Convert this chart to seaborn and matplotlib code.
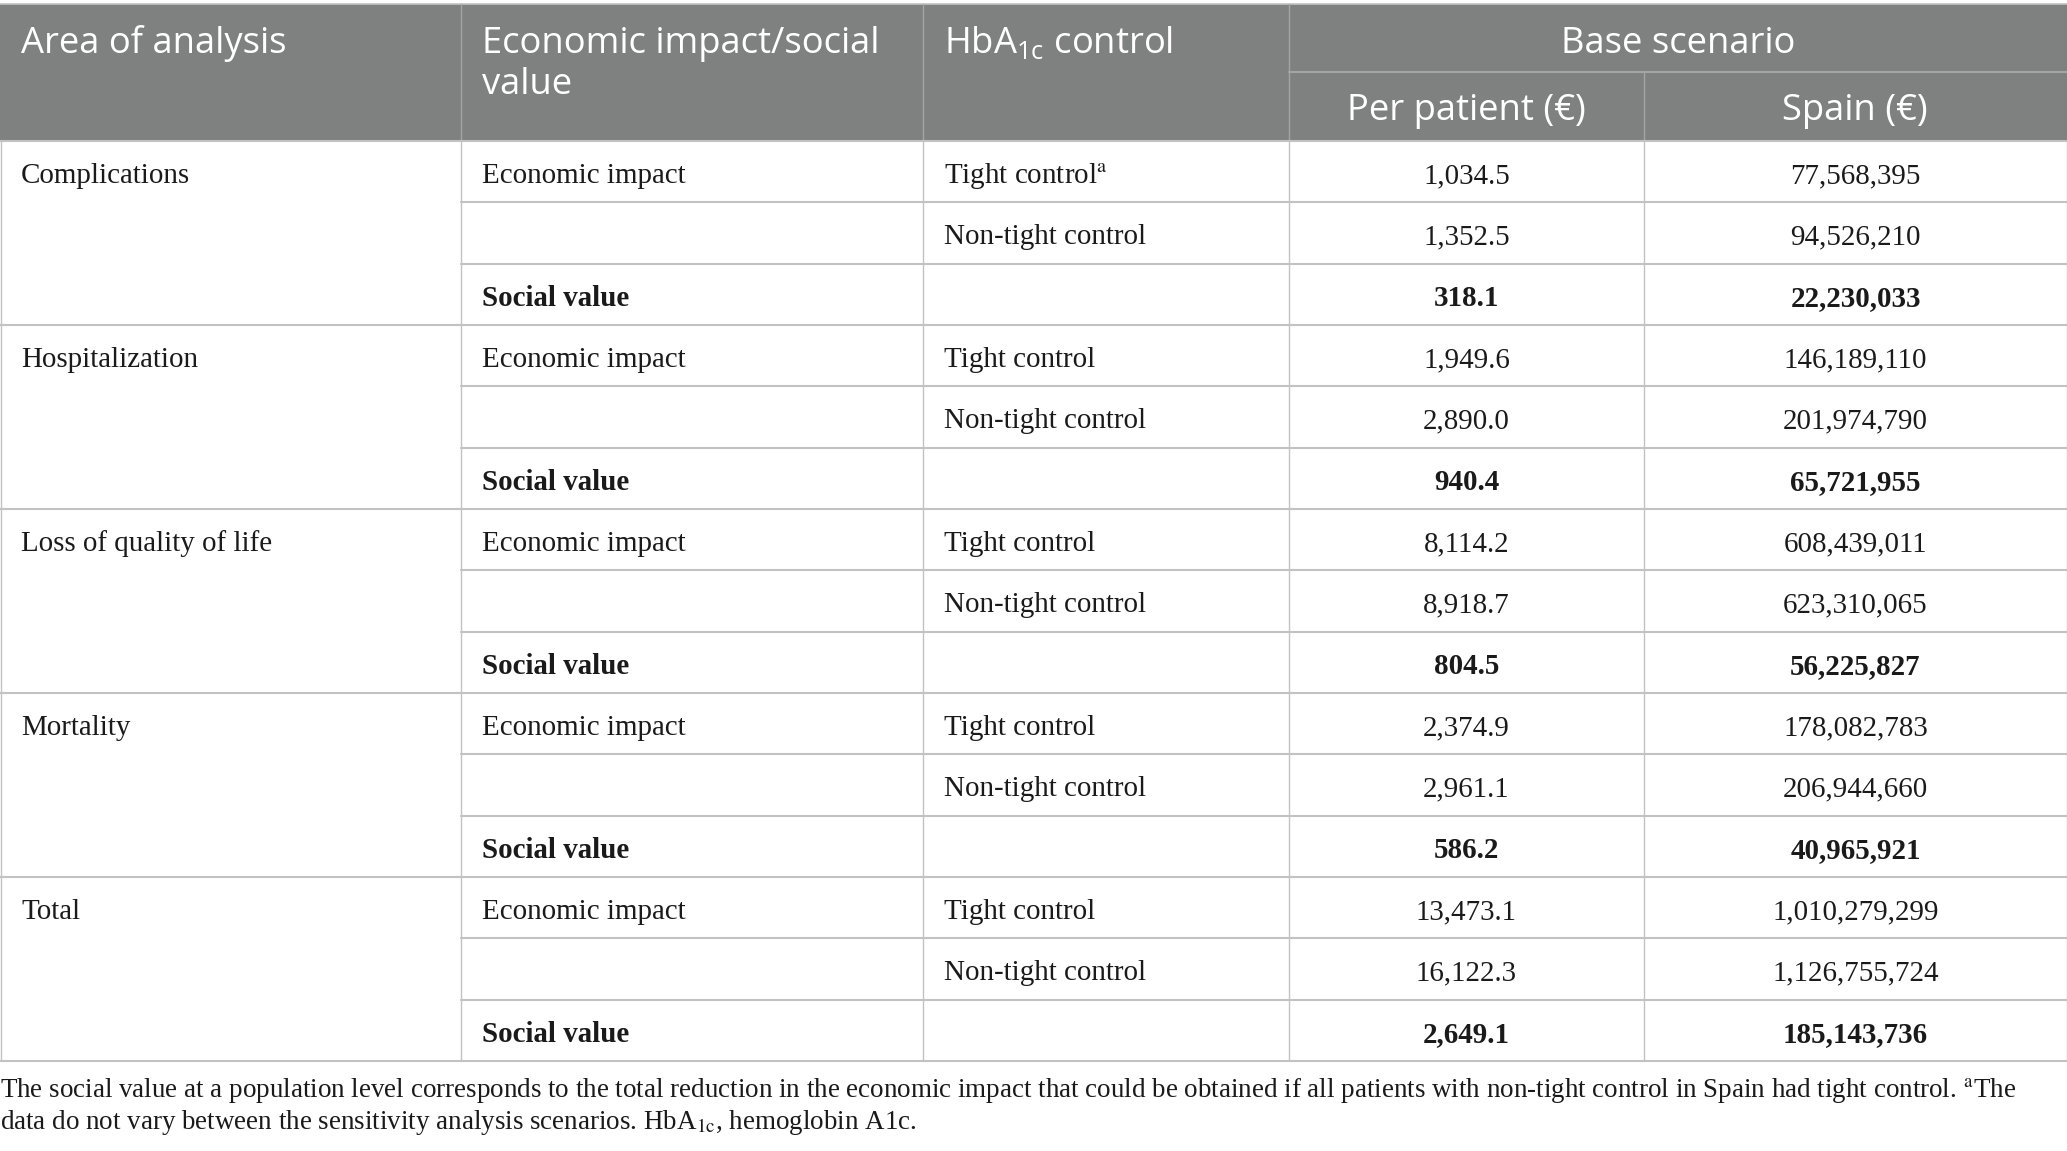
import matplotlib
matplotlib.use("Agg")
import matplotlib.pyplot as plt
import seaborn as sns

# ---------------- data ----------------
areas = ["Complications", "Hospitalization", "Loss of quality of life", "Mortality", "Total"]
row_kinds = ["Economic impact", "", "Social value"]
control_labels = ["Tight control", "Non-tight control", ""]
tight_pp = [1034.5, 1949.6, 8114.2, 2374.9, 13473.1]
nontight_pp = [1352.5, 2890.0, 8918.7, 2961.1, 16122.3]
social_pp = [318.1, 940.4, 804.5, 586.2, 2649.1]
tight_es = [77568395, 146189110, 608439011, 178082783, 1010279299]
nontight_es = [94526210, 201974790, 623310065, 206944660, 1126755724]
social_es = [22230033, 65721955, 56225827, 40965921, 185143736]
header_cols = ["Area of analysis", "Economic impact/social\nvalue", r"HbA$_{\mathrm{1c}}$ control"]
group_header = "Base scenario"
sub_headers = ["Per patient (€)", "Spain (€)"]
foot1 = (r"The social value at a population level corresponds to the total reduction in the economic "
         r"impact that could be obtained if all patients with non-tight control in Spain had tight control. $^{\mathrm{a}}$The")
foot2 = r"data do not vary between the sensitivity analysis scenarios. HbA$_{\mathrm{1c}}$, hemoglobin A1c."

# ---------------- style ----------------
sns.set_theme(style="white")
plt.rcParams["mathtext.fontset"] = "custom"
plt.rcParams["mathtext.rm"] = "Open Sans"
plt.rcParams["mathtext.it"] = "Open Sans:italic"
plt.rcParams["mathtext.bf"] = "Open Sans:bold"

W, H = 2067, 1151
fig = plt.figure(figsize=(W / 100, H / 100), dpi=100)
ax = fig.add_axes([0, 0, 1, 1])
ax.set_xlim(0, W)
ax.set_ylim(H, 0)
ax.axis("off")

HEAD_BG = "#7f8180"
LINE = "#c2c2c2"
HLINE = "#a3a5a4"
TXT = "#1a1a1a"
SANS = "Open Sans"
SERIF = "Liberation Serif"

cols = [0, 461, 923, 1289, 1644, 2066]
top, head_bot, sub_y = 4, 141, 72
row_h = (1061 - 141) / 15.0
body_rows = 15

renderer = fig.canvas.get_renderer()

def fit_size(s, family, target_px, weight="normal", base=20, **kw):
    t = ax.text(0, 0, s, fontsize=base, family=family, weight=weight, **kw)
    w = t.get_window_extent(renderer).width
    t.remove()
    return base * target_px / w

head_fs = fit_size("Area of analysis", SANS, 265)
body_fs = fit_size("Complications", SERIF, 169)
foot_fs = fit_size(foot1, SERIF, 2013, math_fontfamily="stix")

# header background
ax.fill_between([0, W], top, head_bot, color=HEAD_BG, lw=0, zorder=0)
ax.plot([0, W], [top, top], color=LINE, lw=1.2, zorder=2)
# header separators
for x in cols[1:4]:
    ax.plot([x, x], [top, head_bot], color=HLINE, lw=1.0, zorder=2)
ax.plot([cols[4], cols[4]], [sub_y, head_bot], color=HLINE, lw=1.0, zorder=2)
ax.plot([cols[3], W], [sub_y, sub_y], color=HLINE, lw=1.5, zorder=2)

pad = 21
for i, h in enumerate(header_cols):
    lines = h.split("\n")
    for j, ln in enumerate(lines):
        ax.text(cols[i] + pad, 53 + j * 41, ln, color="white", fontsize=head_fs,
                family=SANS, va="baseline", ha="left", zorder=3)
ax.text((cols[3] + W) / 2, 53, group_header, color="white", fontsize=head_fs,
        family=SANS, va="baseline", ha="center", zorder=3)
for k, s in enumerate(sub_headers):
    ax.text((cols[3 + k] + cols[4 + k]) / 2, 120, s, color="white", fontsize=head_fs,
            family=SANS, va="baseline", ha="center", zorder=3)

# body lines
ax.plot([0, W], [head_bot, head_bot], color=LINE, lw=1.5, zorder=2)
for r in range(1, body_rows + 1):
    y = head_bot + r * row_h
    x0 = 0 if r % 3 == 0 else cols[1]
    ax.plot([x0, W], [y, y], color=LINE, lw=1.5, zorder=2)
for x in [0.5] + cols[1:5] + [W - 0.5]:
    ax.plot([x, x], [head_bot, head_bot + body_rows * row_h], color=LINE, lw=1.0, zorder=2)

# body text
pp_vals = [tight_pp, nontight_pp, social_pp]
es_vals = [tight_es, nontight_es, social_es]
for g, area in enumerate(areas):
    for k in range(3):
        r = g * 3 + k
        yb = head_bot + r * row_h + 42
        bold = "bold" if k == 2 else "normal"
        if k == 0:
            ax.text(cols[0] + pad, yb, area, fontsize=body_fs, family=SERIF, color=TXT, va="baseline")
        kind = "Social value" if k == 2 else row_kinds[k]
        if kind:
            ax.text(cols[1] + pad, yb, kind, fontsize=body_fs, family=SERIF, color=TXT,
                    va="baseline", weight=bold)
        ctl = control_labels[k]
        if ctl:
            if g == 0 and k == 0:
                ctl = ctl + r"$^{\mathrm{a}}$"
            ax.text(cols[2] + pad, yb, ctl, fontsize=body_fs, family=SERIF, color=TXT,
                    va="baseline", math_fontfamily="stix")
        ax.text((cols[3] + cols[4]) / 2, yb, f"{pp_vals[k][g]:,.1f}", fontsize=body_fs,
                family=SERIF, color=TXT, va="baseline", ha="center", weight=bold)
        ax.text((cols[4] + W) / 2, yb, f"{es_vals[k][g]:,}", fontsize=body_fs,
                family=SERIF, color=TXT, va="baseline", ha="center", weight=bold)

# footnote
ax.text(0, 1097, foot1, fontsize=foot_fs, family=SERIF, color=TXT, va="baseline",
        math_fontfamily="stix")
ax.text(0, 1129, foot2, fontsize=foot_fs, family=SERIF, color=TXT, va="baseline",
        math_fontfamily="stix")

fig.savefig("out.png", dpi=100)
